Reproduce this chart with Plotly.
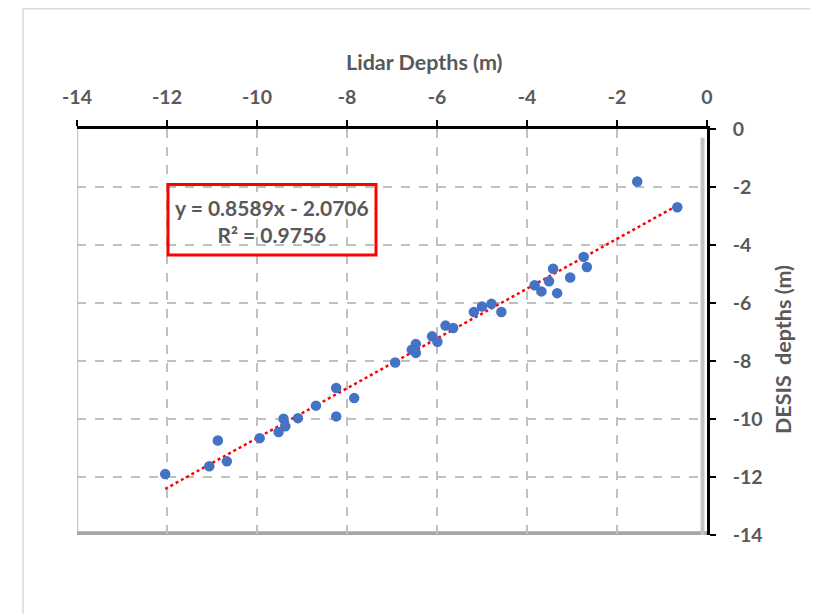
import plotly.graph_objects as go

# Data (Lidar depth x, DESIS depth y)
lidar = [-12.04, -11.06, -10.67, -10.87, -9.94, -9.52, -9.37, -9.41, -9.09, -8.69,
         -8.24, -8.24, -7.84, -6.93, -6.56, -6.47, -6.47, -6.11, -5.99, -5.81,
         -5.64, -5.18, -5.00, -4.79, -4.57, -3.83, -3.68, -3.51, -3.42, -3.33,
         -3.04, -2.74, -2.67, -1.55, -0.66]
desis = [-11.90, -11.63, -11.46, -10.74, -10.66, -10.45, -10.25, -9.99, -9.97, -9.54,
         -9.91, -8.93, -9.28, -8.05, -7.61, -7.41, -7.72, -7.15, -7.34, -6.78,
         -6.86, -6.31, -6.12, -6.03, -6.31, -5.39, -5.60, -5.25, -4.82, -5.66,
         -5.12, -4.41, -4.76, -1.81, -2.70]

slope = 0.8589
intercept = -2.0706
r2 = 0.9756

tick_vals = [-14, -12, -10, -8, -6, -4, -2, 0]
tick_text = ["-14", "-12", "-10", "-8", "-6", "-4", "-2", "0"]

FONT = "Lato"
GREY = "#595959"

x_min, x_max = min(lidar), max(lidar)
trend_x = [x_min, x_max]
trend_y = [slope * v + intercept for v in trend_x]

fig = go.Figure()
fig.add_trace(go.Scatter(x=trend_x, y=trend_y, mode="lines",
                         line=dict(color="#ff0000", width=2.5, dash="dot"),
                         hoverinfo="skip", showlegend=False))
fig.add_trace(go.Scatter(x=lidar, y=desis, mode="markers",
                         marker=dict(color="#4472C4", size=10.5),
                         showlegend=False))

OFF = 8  # page body margin
W, H = 810, 606
L, T = 69, 121
pw, ph = 630, 406
R = W - L - pw
B = H - T - ph

def px_x(p):
    return (p - OFF - L) / pw

def px_y(p):
    return (H - B - (p - OFF)) / ph

border = dict(color="#d9d9d9", width=1.5)
shapes = [
    # outer chart border (left, top, right)
    dict(type="line", xref="paper", yref="paper",
         x0=px_x(23), x1=px_x(23), y0=px_y(620), y1=px_y(8.7),
         line=border, layer="below"),
    dict(type="line", xref="paper", yref="paper",
         x0=px_x(23), x1=px_x(811), y0=px_y(8.7), y1=px_y(8.7),
         line=border, layer="below"),
    dict(type="line", xref="paper", yref="paper",
         x0=px_x(811), x1=px_x(811), y0=px_y(620), y1=px_y(8.7),
         line=border, layer="below"),
    # plot frame left (light)
    dict(type="line", xref="x", yref="y", x0=-14, x1=-14, y0=-14, y1=0,
         line=dict(color="#c8c8c8", width=2.5), layer="below"),
    # plot frame bottom shadow
    dict(type="line", xref="x", yref="y", x0=-14, x1=0, y0=-13.94, y1=-13.94,
         line=dict(color="#a6a6a6", width=4), layer="below"),
    # inner shadow along right axis
    dict(type="line", xref="x", yref="y", x0=-0.1, x1=-0.1, y0=-14, y1=-0.3,
         line=dict(color="#c4c4c4", width=4), layer="below"),
    # equation box
    dict(type="rect", xref="paper", yref="paper",
         x0=px_x(168), x1=px_x(376), y0=px_y(255), y1=px_y(184.5),
         line=dict(color="#ff0000", width=3), fillcolor="rgba(255,255,255,0)"),
]

annotations = [
    dict(text="y = %.4fx - %.4f<br>R² = %.4f" % (slope, -intercept, r2),
         xref="paper", yref="paper", x=px_x(272), y=px_y(221),
         showarrow=False, xanchor="center", yanchor="middle", align="center",
         font=dict(family=FONT, size=21, color=GREY, weight="bold")),
    dict(text="Lidar Depths (m)", xref="paper", yref="paper",
         x=px_x(424), y=px_y(62), showarrow=False, xanchor="center", yanchor="middle",
         font=dict(family=FONT, size=21.5, color=GREY, weight="bold")),
    dict(text="DESIS\u00a0 depths (m)", xref="paper", yref="paper",
         x=px_x(783), y=px_y(350), showarrow=False, textangle=-90,
         xanchor="center", yanchor="middle",
         font=dict(family=FONT, size=21.5, color=GREY, weight="bold")),
]

grid = dict(showgrid=True, gridcolor="#bfbfbf", gridwidth=1.5, griddash="dash")

fig.update_layout(
    width=W, height=H,
    margin=dict(l=L, r=R, t=T, b=B, autoexpand=False),
    paper_bgcolor="white", plot_bgcolor="white",
    font=dict(family=FONT, color=GREY),
    shapes=shapes, annotations=annotations,
    xaxis=dict(range=[-14, 0], side="top", tickmode="array", tickvals=tick_vals,
               ticktext=tick_text, showline=True, linecolor="black", linewidth=2.5,
               ticks="outside", ticklen=6, tickwidth=2, tickcolor="black",
               zeroline=False, mirror=False, ticklabelstandoff=8,
               tickfont=dict(family=FONT, size=19.5, color=GREY, weight="bold"), **grid),
    yaxis=dict(range=[-14, 0], side="right", tickmode="array", tickvals=tick_vals,
               ticktext=tick_text, showline=True, linecolor="black", linewidth=2.5,
               ticks="outside", ticklen=6, tickwidth=2, tickcolor="black",
               zeroline=False, mirror=False, ticklabelstandoff=13,
               tickfont=dict(family=FONT, size=19.5, color=GREY, weight="bold"), **grid),
)

fig.write_html("out.html")
